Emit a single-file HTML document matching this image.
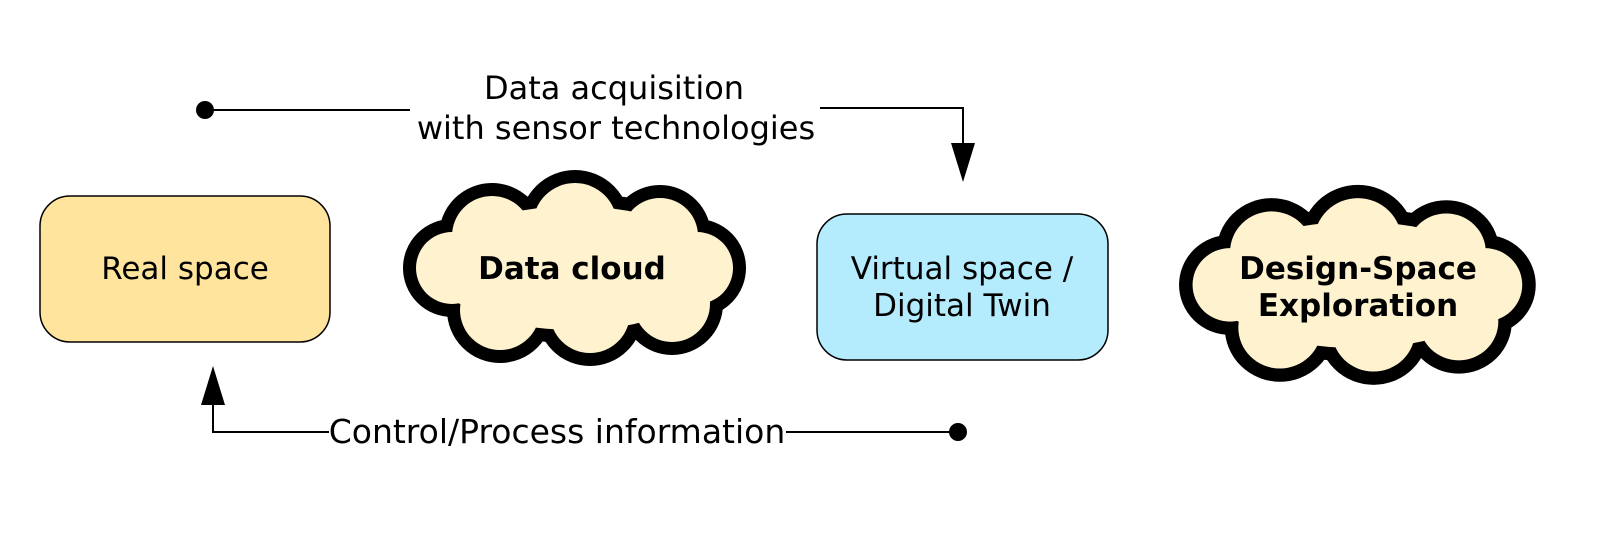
<!DOCTYPE html>
<html><head><meta charset="utf-8"><style>
html,body{margin:0;padding:0;background:#fff;}
svg text{font-family:"DejaVu Sans","Liberation Sans",sans-serif;}
</style></head><body>
<svg width="1600" height="553" viewBox="0 0 1600 553" xmlns="http://www.w3.org/2000/svg">
<defs>
<g id="cloud">
  <ellipse cx="574" cy="268" rx="140" ry="62"/>
  <circle cx="492" cy="236" r="40"/>
  <circle cx="575" cy="225" r="42"/>
  <circle cx="660" cy="236" r="38"/>
  <circle cx="452" cy="268" r="36"/>
  <circle cx="697" cy="268" r="36"/>
  <circle cx="500" cy="310" r="40"/>
  <circle cx="590" cy="313" r="40"/>
  <circle cx="672" cy="304" r="38"/>
</g>
</defs>
<rect x="40" y="196" width="290" height="146" rx="30" fill="#fee49c" stroke="#000" stroke-width="1.5"/>
<text x="185" y="279" font-size="31" text-anchor="middle">Real space</text>
<use href="#cloud" fill="#000" stroke="#000" stroke-width="26"/>
<use href="#cloud" fill="#fff2cf"/>
<text x="572" y="279" font-size="31" font-weight="bold" text-anchor="middle">Data cloud</text>
<rect x="817" y="214" width="291" height="146" rx="30" fill="#b4ecfe" stroke="#000" stroke-width="1.5"/>
<text x="962" y="279" font-size="31" text-anchor="middle">Virtual space /</text>
<text x="962" y="316" font-size="31" text-anchor="middle">Digital Twin</text>
<g transform="translate(1178,190) scale(1.04,1.02) translate(-402,-175)">
<use href="#cloud" fill="#000" stroke="#000" stroke-width="26"/>
<use href="#cloud" fill="#fff2cf"/>
</g>
<text x="1358" y="279" font-size="31" font-weight="bold" text-anchor="middle">Design-Space</text>
<text x="1358" y="316" font-size="31" font-weight="bold" text-anchor="middle">Exploration</text>
<circle cx="205" cy="110" r="9" fill="#000"/>
<path d="M205 110 H410" stroke="#000" stroke-width="2" fill="none"/>
<path d="M820 108 H963 V145" stroke="#000" stroke-width="2" fill="none"/>
<polygon points="951,143 975,143 963,182" fill="#000"/>
<text x="614" y="99" font-size="32" text-anchor="middle">Data acquisition</text>
<text x="616" y="139" font-size="32" text-anchor="middle">with sensor technologies</text>
<circle cx="958" cy="432" r="9" fill="#000"/>
<path d="M786 432 H958" stroke="#000" stroke-width="2" fill="none"/>
<path d="M329 432 H213 V400" stroke="#000" stroke-width="2" fill="none"/>
<polygon points="201,405 225,405 213,366" fill="#000"/>
<text x="557" y="443" font-size="33" text-anchor="middle">Control/Process information</text>
</svg>
</body></html>
